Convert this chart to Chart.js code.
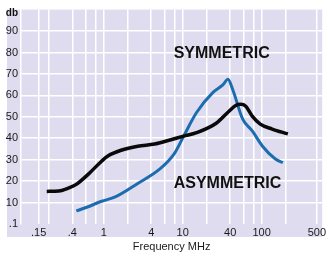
<!DOCTYPE html>
<html>
<head>
<meta charset="utf-8">
<script src="https://cdn.jsdelivr.net/npm/chart.js@4/dist/chart.umd.min.js"></script>
<style>
  html, body { margin: 0; padding: 0; background: #ffffff; }
  #wrap { width: 328px; height: 258px; position: relative; }
</style>
</head>
<body>
<div id="wrap"><canvas id="freqChart"></canvas></div>
<script>
Chart.defaults.font.family = '"Liberation Sans", Arial, sans-serif';

// frequency (MHz) and attenuation (db)
var symFreq = [0.19, 0.27, 0.36, 0.45, 0.65, 0.94, 1.14, 1.66, 2.7, 4.4, 6.9, 10.3, 15, 26.6, 38.6, 47, 54, 63, 76, 96, 136, 215];
var symDb   = [15.2, 15.4, 16.8, 18.5, 23.5, 29.3, 31.8, 34.4, 36.3, 37.3, 39.2, 41.0, 42.6, 47.0, 52.6, 55.3, 55.8, 54.9, 50.3, 46.6, 44.3, 42.0];

var asymFreq = [0.45, 0.61, 0.94, 1.4, 2.7, 5.2, 7.8, 10.3, 15, 24.4, 32.5, 37.5, 43, 57.6, 76.5, 102, 148, 186];
var asymDb   = [6.1, 7.8, 10.6, 12.6, 18.9, 25.8, 32.7, 41.0, 52.0, 61.5, 65.0, 67.5, 62.7, 48.9, 43.3, 36.4, 30.4, 28.6];

var xGridValues = [0.15, 0.2, 0.4, 0.6, 0.8, 1, 2, 4, 6, 8, 10, 20, 40, 60, 80, 100, 200, 500];
var xTickLabels = { 0.15: '.15', 0.4: '.4', 1: '1', 4: '4', 10: '10', 40: '40', 100: '100', 500: '500' };
var yTickValues = [0, 10, 20, 30, 40, 50, 60, 70, 80, 90];

function toPoints(xs, ys) {
    return xs.map(function (x, i) { return { x: x, y: ys[i] }; });
}

var panelPlugin = {
    id: 'panel',
    beforeDraw: function (chart) {
        var a = chart.chartArea, ctx = chart.ctx;
        ctx.save();
        ctx.fillStyle = '#dedcee';
        ctx.fillRect(a.left - 14, a.top, a.right - a.left + 14, a.bottom - a.top + 13);
        ctx.restore();
    },
    afterDraw: function (chart) {
        var ctx = chart.ctx, xs = chart.scales.x, ys = chart.scales.y;
        ctx.save();
        ctx.fillStyle = '#111111';
        ctx.font = 'bold 10px "Liberation Sans", Arial, sans-serif';
        ctx.textAlign = 'right';
        ctx.textBaseline = 'middle';
        ctx.fillText('db', 18, 13);
        ctx.font = 'bold 16px "Liberation Sans", Arial, sans-serif';
        ctx.textAlign = 'left';
        ctx.fillText('SYMMETRIC', xs.getPixelForValue(7.7), ys.getPixelForValue(79.5));
        ctx.fillText('ASYMMETRIC', xs.getPixelForValue(7.7), ys.getPixelForValue(19));
        ctx.restore();
    }
};

new Chart(document.getElementById('freqChart'), {
    type: 'line',
    data: {
        datasets: [
            {
                label: 'Symmetric',
                data: toPoints(symFreq, symDb),
                borderColor: '#0a0a0a',
                borderWidth: 3.5,
                pointRadius: 0,
                cubicInterpolationMode: 'monotone',
                fill: false
            },
            {
                label: 'Asymmetric',
                data: toPoints(asymFreq, asymDb),
                borderColor: '#1c6cb0',
                borderWidth: 3,
                pointRadius: 0,
                cubicInterpolationMode: 'monotone',
                fill: false
            }
        ]
    },
    options: {
        responsive: true,
        maintainAspectRatio: false,
        animation: false,
        layout: { padding: { top: 7, left: 0, right: 0, bottom: 0 } },
        plugins: {
            legend: { display: false },
            tooltip: { enabled: false }
        },
        scales: {
            x: {
                type: 'logarithmic',
                min: 0.0897,
                max: 584,
                afterBuildTicks: function (scale) {
                    scale.ticks = xGridValues.map(function (v) { return { value: v }; });
                },
                afterFit: function (scale) { scale.height = 34; },
                ticks: {
                    autoSkip: false,
                    maxRotation: 0,
                    padding: 2,
                    color: '#1a1a1a',
                    font: { size: 11 },
                    callback: function (value) { return xTickLabels[value] || ''; }
                },
                grid: { color: '#ffffff', lineWidth: 1.5, drawTicks: false },
                border: { display: false },
                title: {
                    display: true,
                    text: 'Frequency MHz',
                    color: '#1a1a1a',
                    font: { size: 11 },
                    padding: { top: 0, bottom: 4 }
                }
            },
            y: {
                min: 0,
                max: 100,
                afterBuildTicks: function (scale) {
                    scale.ticks = yTickValues.map(function (v) { return { value: v }; });
                },
                afterFit: function (scale) { scale.width = 21; },
                ticks: {
                    padding: 3,
                    color: '#1a1a1a',
                    font: { size: 11 },
                    callback: function (value) { return value === 0 ? '.1' : String(value); }
                },
                grid: {
                    color: function (ctx) { return ctx.tick && ctx.tick.value === 0 ? 'rgba(0,0,0,0)' : '#ffffff'; },
                    lineWidth: 1.5,
                    drawTicks: false
                },
                border: { display: true, color: '#ffffff', width: 1.5 }
            }
        }
    },
    plugins: [panelPlugin]
});
</script>
</body>
</html>
